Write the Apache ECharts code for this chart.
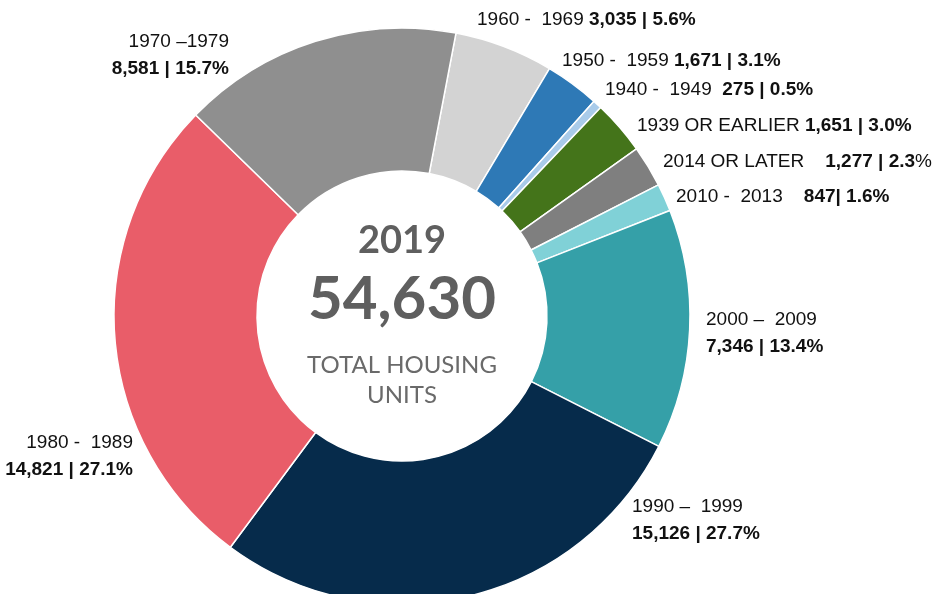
<!DOCTYPE html>
<html>
<head>
<meta charset="utf-8">
<script src="https://cdn.jsdelivr.net/npm/echarts@6/dist/echarts.min.js"></script>
<style>
  html, body { margin: 0; padding: 0; background: #fff; }
  #main { width: 937px; height: 594px; }
</style>
</head>
<body>
<div id="main"></div>
<script>
  // data (clockwise from top)
  var periods = ['1960 -  1969', '1950 -  1959', '1940 -  1949', '1939 OR EARLIER', '2014 OR LATER',
                 '2010 -  2013', '2000 –  2009', '1990 –  1999', '1980 -  1989', '1970 –1979']
  var units = [3035, 1671, 275, 1651, 1277, 847, 7346, 15126, 14821, 8581]
  var shares = ['5.6%', '3.1%', '0.5%', '3.0%', '2.3%', '1.6%', '13.4%', '27.7%', '27.1%', '15.7%']
  var colors = ['#d3d3d3', '#2e79b6', '#a9cbea', '#44741a', '#7f7f7f', '#80d1d7', '#35a0a8', '#062b4b', '#e95d69', '#8f8f8f']
  var total = '54,630'
  var year = '2019'

  // where each label sits: [x, y, align]
  var labelPos = [
    [477, 20, 'left'], [562, 61, 'left'], [605, 90, 'left'], [637, 126, 'left'], [663, 162, 'left'],
    [676, 197, 'left'], [706, 333, 'left'], [632, 520, 'left'], [133, 456, 'right'], [229, 55, 'right']
  ]
  var twoLine = [6, 7, 8, 9]

  function fmt(n) { return n.toLocaleString('en-US') }

  function labelText(i) {
    var name = periods[i], v = fmt(units[i]), s = shares[i]
    if (twoLine.indexOf(i) >= 0) return '{n|' + name + '}\n{b|' + v + ' | ' + s + '}'
    if (i === 4) return '{n|' + name + '    }{b|' + v + ' | ' + s.replace('%', '') + '}{n|%}'
    if (i === 5) return '{n|' + name + '    }{b|' + v + '| ' + s + '}'
    if (i === 2) return '{n|' + name + '  }{b|' + v + ' | ' + s + '}'
    return '{n|' + name + ' }{b|' + v + ' | ' + s + '}'
  }

  var chart = echarts.init(document.getElementById('main'))
  chart.setOption({
    animation: false,
    series: [{
      type: 'pie',
      center: [402, 316],
      radius: [145, 288],
      startAngle: 79.2,
      clockwise: true,
      avoidLabelOverlap: false,
      itemStyle: { borderColor: '#fff', borderWidth: 1.5 },
      labelLine: { show: false },
      label: {
        show: true,
        position: 'outside',
        formatter: function (p) { return labelText(p.dataIndex) },
        rich: {
          n: { fontFamily: 'Liberation Sans', fontSize: 19, color: '#111', lineHeight: 27 },
          b: { fontFamily: 'Liberation Sans', fontSize: 19, fontWeight: 'bold', color: '#111', lineHeight: 27 }
        }
      },
      labelLayout: function (p) {
        var lp = labelPos[p.dataIndex]
        return { x: lp[0], y: lp[1], align: lp[2], verticalAlign: 'middle' }
      },
      emphasis: { disabled: true },
      data: units.map(function (v, i) {
        return { name: periods[i], value: v, itemStyle: { color: colors[i] } }
      })
    }],
    graphic: [
      { type: 'text', x: 402, y: 241, style: { text: year, fontFamily: 'Lato', fontWeight: 'bold', fontSize: 38, fill: '#5f5f5f', align: 'center', verticalAlign: 'middle' } },
      { type: 'text', x: 402, y: 300, style: { text: total, fontFamily: 'Lato', fontWeight: 'bold', fontSize: 60, fill: '#5f5f5f', align: 'center', verticalAlign: 'middle' } },
      { type: 'text', x: 402, y: 365, style: { text: 'TOTAL HOUSING', fontFamily: 'Lato', fontSize: 24, fill: '#6a6a6a', align: 'center', verticalAlign: 'middle' } },
      { type: 'text', x: 402, y: 395, style: { text: 'UNITS', fontFamily: 'Lato', fontSize: 24, fill: '#6a6a6a', align: 'center', verticalAlign: 'middle' } }
    ]
  })
</script>
</body>
</html>
